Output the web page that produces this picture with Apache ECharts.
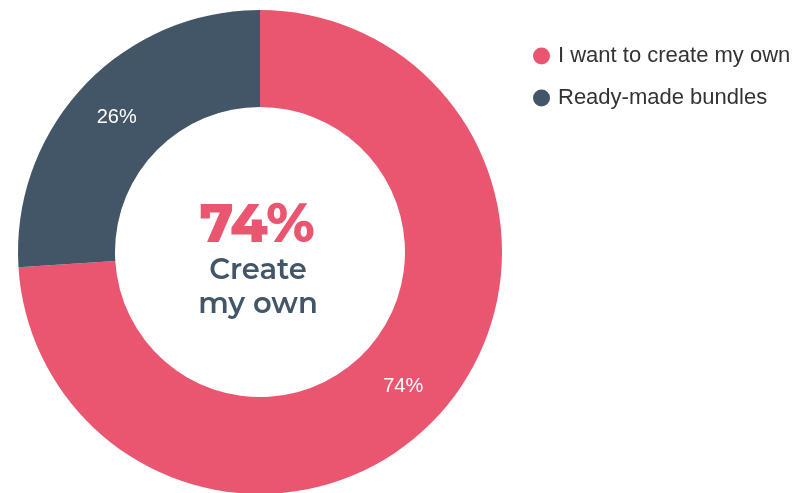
<!DOCTYPE html>
<html>
<head>
<meta charset="utf-8">
<script src="https://cdn.jsdelivr.net/npm/echarts@6/dist/echarts.min.js"></script>
<style>
  html, body { margin: 0; padding: 0; background: #fff; }
  #chart { width: 798px; height: 493px; }
</style>
</head>
<body>
<div id="chart"></div>
<script>
// Survey split: build your own vs. ready-made bundles
const categories = ['I want to create my own', 'Ready-made bundles'];
const shares = [74, 26];
const sliceColors = ['#EA5670', '#425668'];
const centerHeadline = '74%';
const centerCaption = ['Create', 'my own'];

const chart = echarts.init(document.getElementById('chart'), null, { renderer: 'canvas' });

chart.setOption({
  animation: false,
  color: sliceColors,
  legend: {
    orient: 'vertical',
    left: 528,
    top: 40,
    icon: 'circle',
    itemWidth: 17,
    itemHeight: 17,
    itemGap: 20,
    textStyle: {
      fontFamily: 'Liberation Sans, Arial, sans-serif',
      fontSize: 22,
      color: '#333',
      padding: [0, 0, 0, 3]
    },
    data: categories
  },
  graphic: [
    {
      type: 'text',
      style: {
        text: centerHeadline,
        x: 257, y: 226,
        align: 'center', verticalAlign: 'middle',
        font: '800 54px "Montserrat", "Lato", "Noto Sans", sans-serif',
        fill: '#EA5670'
      }
    },
    {
      type: 'text',
      style: {
        text: centerCaption.join('\n'),
        x: 258, y: 287,
        align: 'center', verticalAlign: 'middle',
        font: '600 29px "Montserrat", "Lato", "Noto Sans", sans-serif',
        lineHeight: 34,
        fill: '#425668'
      }
    }
  ],
  series: [{
    type: 'pie',
    center: [260, 252],
    radius: [145, 242],
    startAngle: 90,
    clockwise: true,
    avoidLabelOverlap: false,
    label: {
      show: true,
      position: 'inside',
      formatter: '{c}%',
      color: '#fff',
      fontFamily: 'Liberation Sans, Arial, sans-serif',
      fontSize: 20
    },
    labelLine: { show: false },
    emphasis: { disabled: true },
    itemStyle: { borderWidth: 0 },
    data: categories.map((name, i) => ({ name, value: shares[i] }))
  }]
});
</script>
</body>
</html>
